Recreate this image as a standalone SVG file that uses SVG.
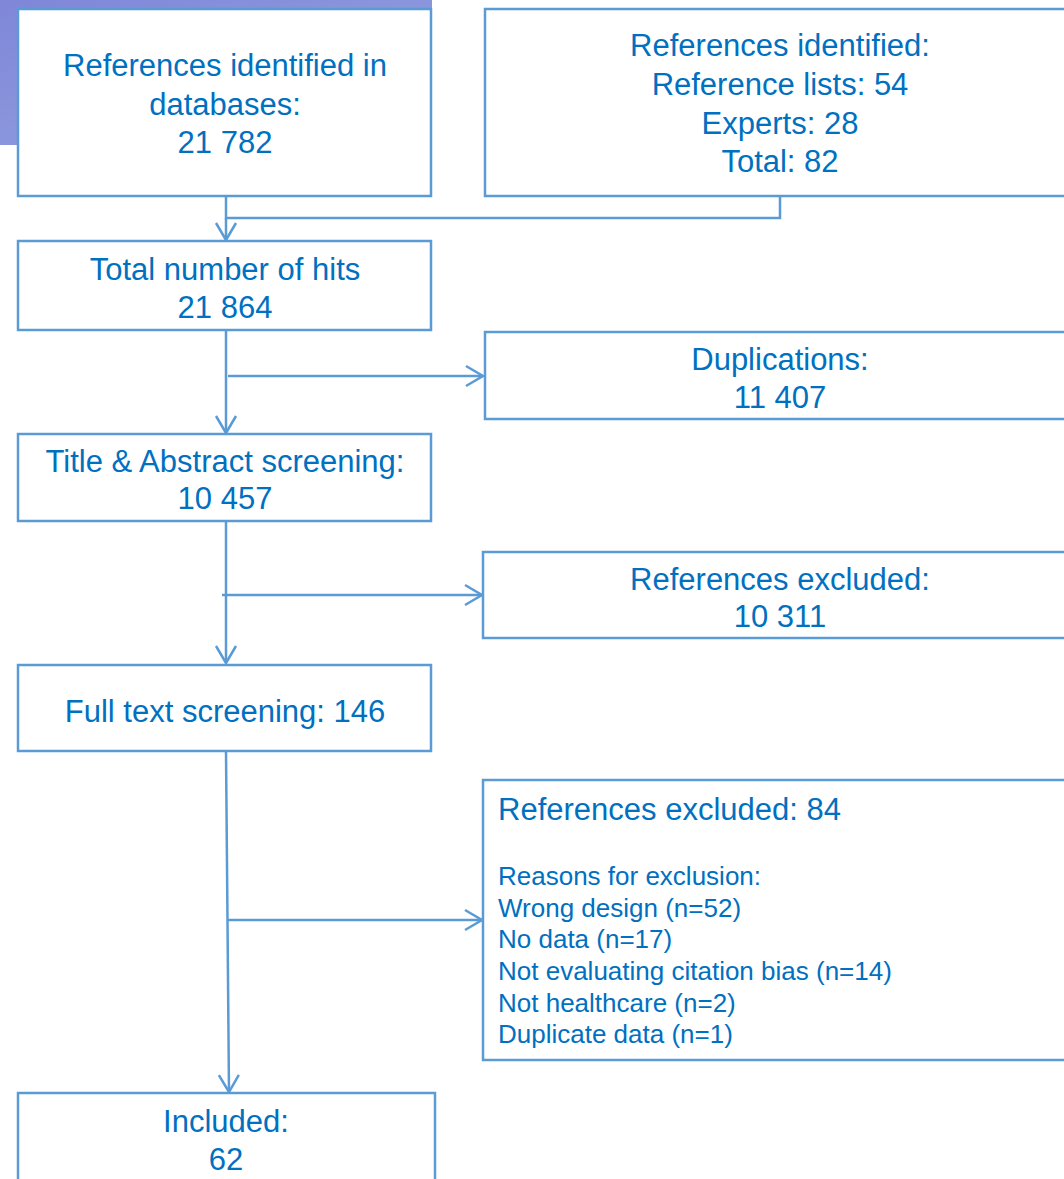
<svg xmlns="http://www.w3.org/2000/svg" width="1064" height="1179" viewBox="0 0 1064 1179">
<style>
.box{fill:#ffffff;stroke:#5b9bd5;stroke-width:2.5}
.t{font-family:"Liberation Sans",Arial,sans-serif;font-size:31px;fill:#0070c0;text-anchor:middle}
.tl{font-family:"Liberation Sans",Arial,sans-serif;font-size:31px;fill:#0070c0}
.ts{font-family:"Liberation Sans",Arial,sans-serif;font-size:26px;fill:#0070c0}
.c{fill:none;stroke:#5b9bd5;stroke-width:2.5}
</style>
<defs>
<linearGradient id="bg" x1="0" y1="0" x2="1" y2="1">
<stop offset="0" stop-color="#7f86d8"/>
<stop offset="0.5" stop-color="#8a96dc"/>
<stop offset="1" stop-color="#7f8fda"/>
</linearGradient>
<marker id="ah" markerUnits="userSpaceOnUse" markerWidth="24" markerHeight="24" viewBox="-20 -12 24 24" refX="0" refY="0" orient="auto">
<path d="M-17,-10 L0,0 L-17,10" fill="none" stroke="#5b9bd5" stroke-width="2.5"/>
</marker>
</defs>
<rect x="0" y="0" width="432" height="145" fill="url(#bg)"/>
<g id="connectors">
<path class="c" d="M226,196 V218 H780 V196"/>
<path class="c" d="M226,218 V240" marker-end="url(#ah)"/>
<path class="c" d="M226,330 V433" marker-end="url(#ah)"/>
<path class="c" d="M228,376 H483" marker-end="url(#ah)"/>
<path class="c" d="M226,521 V663" marker-end="url(#ah)"/>
<path class="c" d="M222,595 H482" marker-end="url(#ah)"/>
<path class="c" d="M226,751 L229,1092" marker-end="url(#ah)"/>
<path class="c" d="M228,920 H482" marker-end="url(#ah)"/>
</g>
<g id="n1"><rect class="box" x="18" y="9" width="413" height="187"/>
<text class="t" x="225" y="76">References identified in</text>
<text class="t" x="225" y="115">databases:</text>
<text class="t" x="225" y="153">21 782</text></g>
<g id="n2"><rect class="box" x="485" y="9" width="590" height="187"/>
<text class="t" x="780" y="56">References identified:</text>
<text class="t" x="780" y="95">Reference lists: 54</text>
<text class="t" x="780" y="134">Experts: 28</text>
<text class="t" x="780" y="172">Total: 82</text></g>
<g id="n3"><rect class="box" x="18" y="241" width="413" height="89"/>
<text class="t" x="225" y="280">Total number of hits</text>
<text class="t" x="225" y="318">21 864</text></g>
<g id="n4"><rect class="box" x="485" y="332" width="590" height="87"/>
<text class="t" x="780" y="370">Duplications:</text>
<text class="t" x="780" y="408">11 407</text></g>
<g id="n5"><rect class="box" x="18" y="434" width="413" height="87"/>
<text class="t" x="225" y="472">Title &amp; Abstract screening:</text>
<text class="t" x="225" y="509">10 457</text></g>
<g id="n6"><rect class="box" x="483" y="552" width="592" height="86"/>
<text class="t" x="780" y="590">References excluded:</text>
<text class="t" x="780" y="627">10 311</text></g>
<g id="n7"><rect class="box" x="18" y="665" width="413" height="86"/>
<text class="t" x="225" y="722">Full text screening: 146</text></g>
<g id="n8"><rect class="box" x="483" y="780" width="592" height="280"/>
<text class="tl" x="498" y="820">References excluded: 84</text>
<text class="ts" x="498" y="885">Reasons for exclusion:</text>
<text class="ts" x="498" y="917">Wrong design (n=52)</text>
<text class="ts" x="498" y="948">No data (n=17)</text>
<text class="ts" x="498" y="980">Not evaluating citation bias (n=14)</text>
<text class="ts" x="498" y="1012">Not healthcare (n=2)</text>
<text class="ts" x="498" y="1043">Duplicate data (n=1)</text></g>
<g id="n9"><rect class="box" x="18" y="1093" width="417" height="100"/>
<text class="t" x="226" y="1132">Included:</text>
<text class="t" x="226" y="1170">62</text></g>
</svg>
